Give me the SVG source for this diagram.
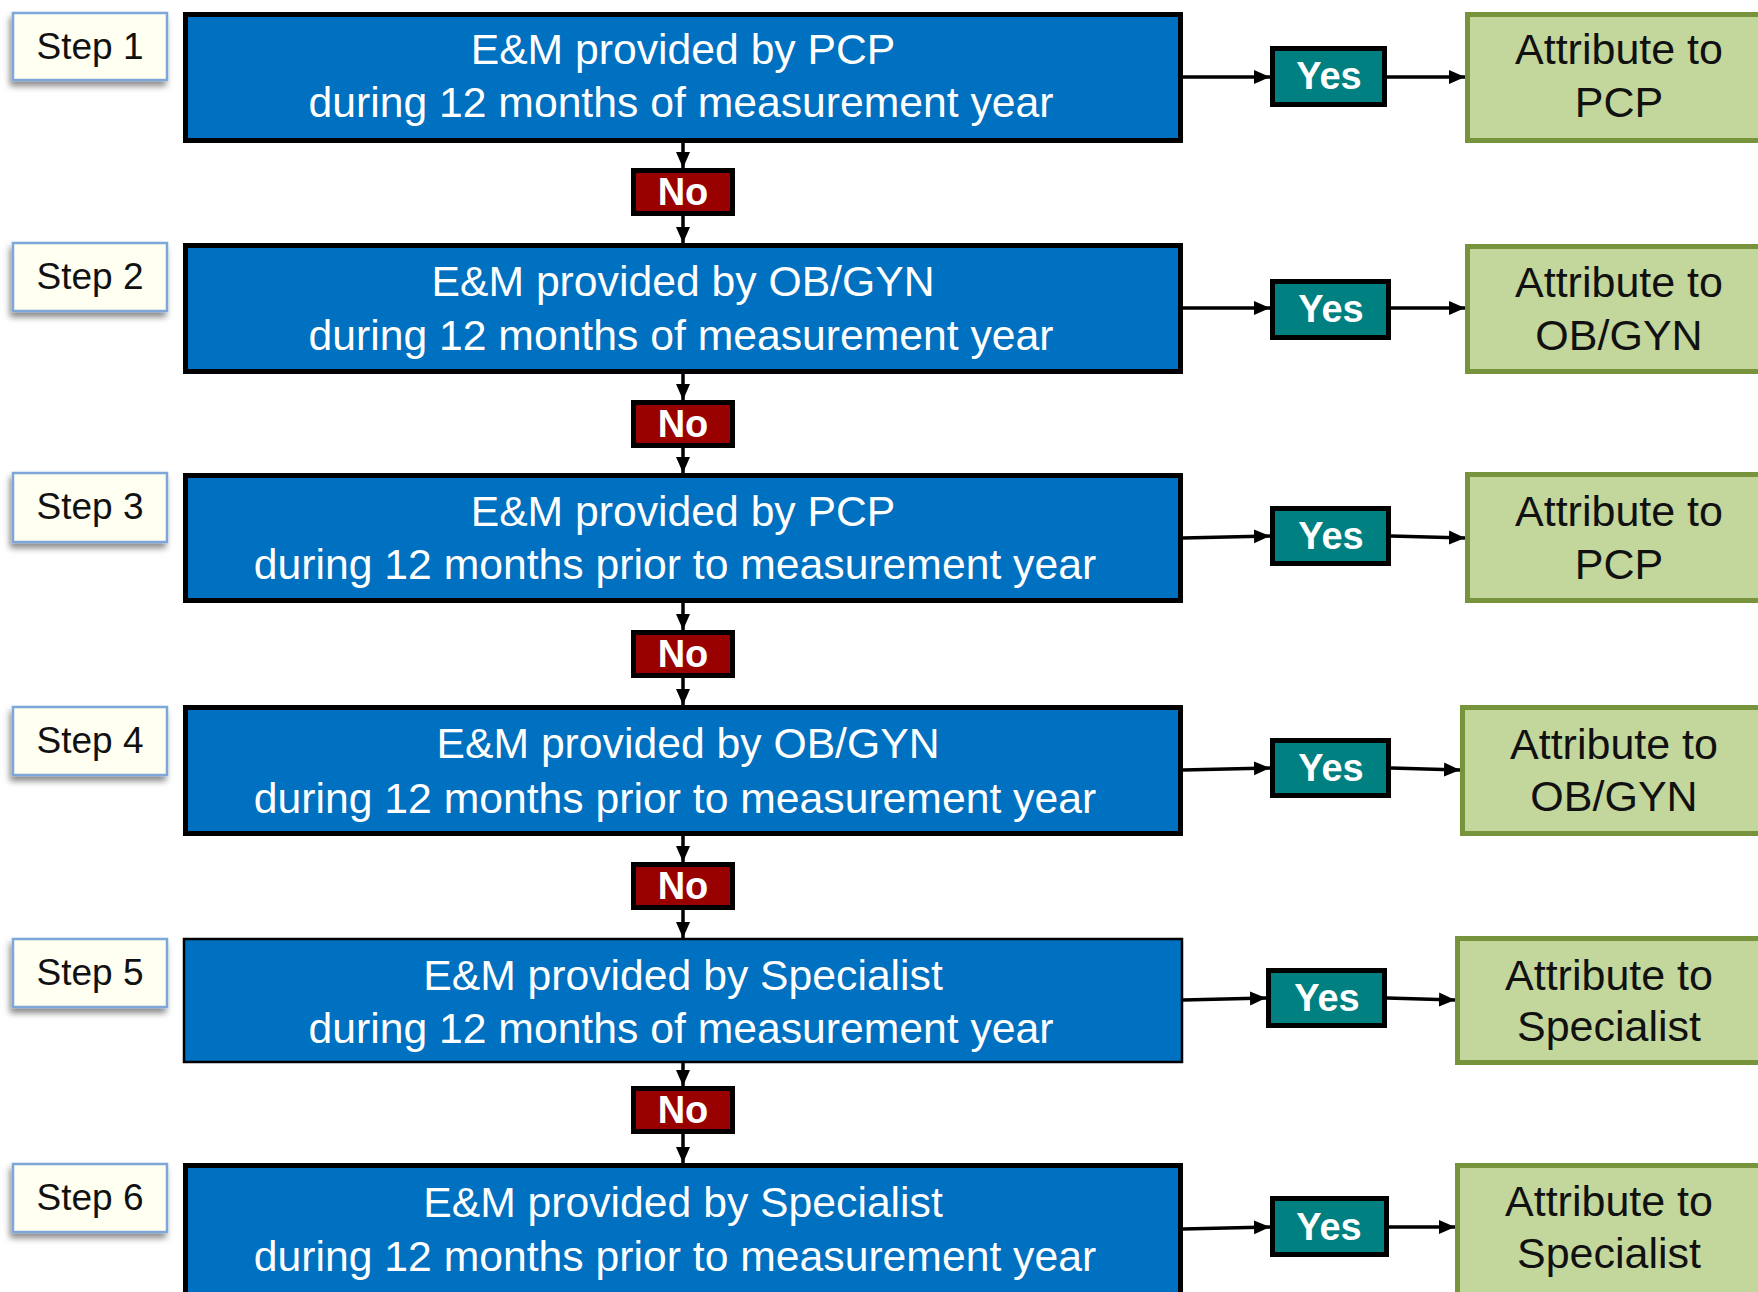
<svg xmlns="http://www.w3.org/2000/svg" width="1758" height="1292" viewBox="0 0 1758 1292">
<defs>
<marker id="ah" markerUnits="userSpaceOnUse" markerWidth="16" markerHeight="16" viewBox="0 0 16 16" refX="16" refY="8" orient="auto">
<path d="M0,1 L16,8 L0,15 Z" fill="#000"/>
</marker>
<filter id="sh" x="-20%" y="-20%" width="140%" height="160%">
<feDropShadow dx="-2" dy="5" stdDeviation="3" flood-color="#000" flood-opacity="0.45"/>
</filter>
<style>
.step{fill:#FFFFF2;stroke:#7EA6D8;stroke-width:2.5;filter:url(#sh)}
.steptx{font-family:"Liberation Sans",Arial,sans-serif;font-size:37px;fill:#111;text-anchor:middle}
.blue{fill:#0070C0;stroke:#000;stroke-width:5}
.bluetx{font-family:"Liberation Sans",Arial,sans-serif;font-size:42.7px;fill:#fff;text-anchor:middle}
.yes{fill:#008080;stroke:#000;stroke-width:5}
.no{fill:#990000;stroke:#000;stroke-width:5}
.btx{font-family:"Liberation Sans",Arial,sans-serif;font-size:38px;font-weight:bold;fill:#fff;text-anchor:middle}
.green{fill:#C3D69B;stroke:#77933C;stroke-width:5}
.greentx{font-family:"Liberation Sans",Arial,sans-serif;font-size:43px;fill:#111;text-anchor:middle}
.conn{stroke:#000;stroke-width:3.5;fill:none;marker-end:url(#ah)}
</style>
</defs>
<rect width="1758" height="1292" fill="#fff"/>

<g id="connectors">
<line class="conn" x1="683" y1="143" x2="683" y2="168"/>
<line class="conn" x1="683" y1="216" x2="683" y2="243"/>
<line class="conn" x1="683" y1="374" x2="683" y2="400"/>
<line class="conn" x1="683" y1="448" x2="683" y2="473"/>
<line class="conn" x1="683" y1="603" x2="683" y2="630"/>
<line class="conn" x1="683" y1="678" x2="683" y2="705"/>
<line class="conn" x1="683" y1="836" x2="683" y2="862"/>
<line class="conn" x1="683" y1="910" x2="683" y2="938"/>
<line class="conn" x1="683" y1="1063" x2="683" y2="1086"/>
<line class="conn" x1="683" y1="1134" x2="683" y2="1163"/>
<line class="conn" x1="1183" y1="77" x2="1270" y2="77"/>
<line class="conn" x1="1387" y1="77" x2="1465" y2="77"/>
<line class="conn" x1="1183" y1="308" x2="1270" y2="308"/>
<line class="conn" x1="1391" y1="308" x2="1465" y2="308"/>
<line class="conn" x1="1183" y1="538" x2="1270" y2="536"/>
<line class="conn" x1="1391" y1="536" x2="1465" y2="538"/>
<line class="conn" x1="1183" y1="770" x2="1270" y2="768"/>
<line class="conn" x1="1391" y1="768" x2="1460" y2="770"/>
<line class="conn" x1="1183" y1="1000" x2="1266" y2="998"/>
<line class="conn" x1="1387" y1="998" x2="1455" y2="1000"/>
<line class="conn" x1="1183" y1="1229" x2="1270" y2="1227"/>
<line class="conn" x1="1389" y1="1227" x2="1455" y2="1227"/>
</g>

<!-- Row 1 -->
<g id="step1"><rect class="step" x="13" y="13" width="154" height="67"/><text class="steptx" x="90" y="59">Step 1</text></g>
<g id="q1"><rect class="blue" x="185.5" y="14.5" width="995" height="126"/><text class="bluetx" x="683" y="64">E&amp;M provided by PCP</text><text class="bluetx" x="681" y="117">during 12 months of measurement year</text></g>
<g id="yes1"><rect class="yes" x="1272.5" y="48.5" width="112" height="56"/><text class="btx" x="1329" y="89">Yes</text></g>
<g id="a1"><rect class="green" x="1467.5" y="14.5" width="310" height="126"/><text class="greentx" x="1619" y="64">Attribute to</text><text class="greentx" x="1619" y="117">PCP</text></g>
<g id="no1"><rect class="no" x="633.5" y="170.5" width="99" height="43"/><text class="btx" x="683" y="205">No</text></g>

<!-- Row 2 -->
<g id="step2"><rect class="step" x="13" y="243" width="154" height="68"/><text class="steptx" x="90" y="289">Step 2</text></g>
<g id="q2"><rect class="blue" x="185.5" y="245.5" width="995" height="126"/><text class="bluetx" x="683" y="296">E&amp;M provided by OB/GYN</text><text class="bluetx" x="681" y="350">during 12 months of measurement year</text></g>
<g id="yes2"><rect class="yes" x="1272.5" y="281.5" width="116" height="56"/><text class="btx" x="1331" y="322">Yes</text></g>
<g id="a2"><rect class="green" x="1467.5" y="246.5" width="310" height="125"/><text class="greentx" x="1619" y="297">Attribute to</text><text class="greentx" x="1619" y="350">OB/GYN</text></g>
<g id="no2"><rect class="no" x="633.5" y="402.5" width="99" height="43"/><text class="btx" x="683" y="437">No</text></g>

<!-- Row 3 -->
<g id="step3"><rect class="step" x="13" y="473" width="154" height="69"/><text class="steptx" x="90" y="519">Step 3</text></g>
<g id="q3"><rect class="blue" x="185.5" y="475.5" width="995" height="125"/><text class="bluetx" x="683" y="526">E&amp;M provided by PCP</text><text class="bluetx" x="675" y="579">during 12 months prior to measurement year</text></g>
<g id="yes3"><rect class="yes" x="1272.5" y="508.5" width="116" height="55"/><text class="btx" x="1331" y="549">Yes</text></g>
<g id="a3"><rect class="green" x="1467.5" y="474.5" width="310" height="126"/><text class="greentx" x="1619" y="526">Attribute to</text><text class="greentx" x="1619" y="579">PCP</text></g>
<g id="no3"><rect class="no" x="633.5" y="632.5" width="99" height="43"/><text class="btx" x="683" y="667">No</text></g>

<!-- Row 4 -->
<g id="step4"><rect class="step" x="13" y="707" width="154" height="68"/><text class="steptx" x="90" y="753">Step 4</text></g>
<g id="q4"><rect class="blue" x="185.5" y="707.5" width="995" height="126"/><text class="bluetx" x="688" y="758">E&amp;M provided by OB/GYN</text><text class="bluetx" x="675" y="813">during 12 months prior to measurement year</text></g>
<g id="yes4"><rect class="yes" x="1272.5" y="740.5" width="116" height="55"/><text class="btx" x="1331" y="781">Yes</text></g>
<g id="a4"><rect class="green" x="1462.5" y="707.5" width="310" height="126"/><text class="greentx" x="1614" y="759">Attribute to</text><text class="greentx" x="1614" y="811">OB/GYN</text></g>
<g id="no4"><rect class="no" x="633.5" y="864.5" width="99" height="43"/><text class="btx" x="683" y="899">No</text></g>

<!-- Row 5 -->
<g id="step5"><rect class="step" x="13" y="939" width="154" height="68"/><text class="steptx" x="90" y="985">Step 5</text></g>
<g id="q5"><rect class="blue" x="184" y="939" width="998" height="123" style="stroke-width:2.5"/><text class="bluetx" x="683" y="990">E&amp;M provided by Specialist</text><text class="bluetx" x="681" y="1043">during 12 months of measurement year</text></g>
<g id="yes5"><rect class="yes" x="1268.5" y="970.5" width="116" height="55"/><text class="btx" x="1327" y="1011">Yes</text></g>
<g id="a5"><rect class="green" x="1457.5" y="938.5" width="320" height="124"/><text class="greentx" x="1609" y="990">Attribute to</text><text class="greentx" x="1609" y="1041">Specialist</text></g>
<g id="no5"><rect class="no" x="633.5" y="1088.5" width="99" height="43"/><text class="btx" x="683" y="1123">No</text></g>

<!-- Row 6 -->
<g id="step6"><rect class="step" x="13" y="1164" width="154" height="68"/><text class="steptx" x="90" y="1210">Step 6</text></g>
<g id="q6"><rect class="blue" x="185.5" y="1165.5" width="995" height="140"/><text class="bluetx" x="683" y="1217">E&amp;M provided by Specialist</text><text class="bluetx" x="675" y="1271">during 12 months prior to measurement year</text></g>
<g id="yes6"><rect class="yes" x="1272.5" y="1198.5" width="114" height="56"/><text class="btx" x="1329" y="1240">Yes</text></g>
<g id="a6"><rect class="green" x="1457.5" y="1165.5" width="320" height="140"/><text class="greentx" x="1609" y="1216">Attribute to</text><text class="greentx" x="1609" y="1268">Specialist</text></g>
</svg>
